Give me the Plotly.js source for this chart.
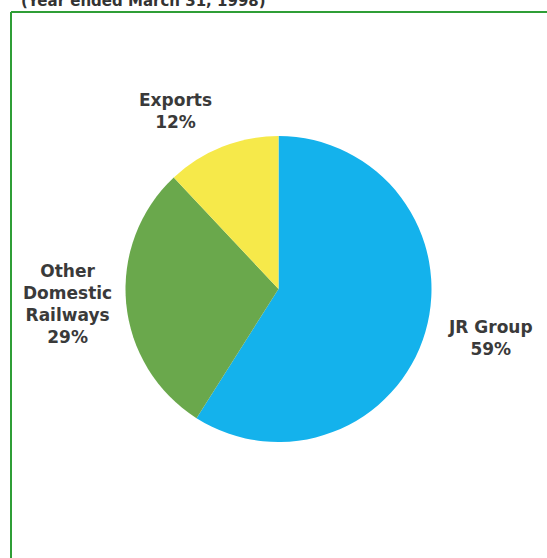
<!DOCTYPE html>
<html>
<head>
<meta charset="utf-8">
<script src="https://cdn.plot.ly/plotly-3.0.1.min.js"></script>
<style>html,body{margin:0;padding:0;background:#fff;}#chart{width:547px;height:558px;}</style>
</head>
<body>
<div id="chart"></div>
<script>
const categories = ["JR Group", "Other<br>Domestic<br>Railways", "Exports"];
const shares = [59, 29, 12];
const sliceColors = ["#14b2ec", "#6aa84c", "#f6e94a"];
const subtitle = "(Year ended March 31, 1998)";

// label anchor positions (paper coordinates)
const labelPos = [
  {x: 490 / 547, y: 1 - 338 / 558},
  {x: 67 / 547, y: 1 - 304 / 558},
  {x: 175 / 547, y: 1 - 111 / 558}
];

const W = 547, H = 558;
const fontFam = "'DejaVu Sans', 'Noto Sans', sans-serif";

const trace = {
  type: "pie",
  labels: categories,
  values: shares,
  sort: false,
  direction: "clockwise",
  rotation: 0,
  textinfo: "none",
  hoverinfo: "none",
  marker: {colors: sliceColors, line: {width: 0}},
  domain: {x: [125 / W, 432 / W], y: [1 - 442 / H, 1 - 136 / H]},
  showlegend: false
};

const annotations = categories.map((c, i) => ({
  xref: "paper", yref: "paper",
  x: labelPos[i].x, y: labelPos[i].y,
  xanchor: "center", yanchor: "middle",
  text: c + "<br>" + shares[i] + "%",
  showarrow: false,
  align: "center",
  font: {family: fontFam, size: 17, weight: "bold", color: "#3a3a3a"}
}));

annotations.push({
  xref: "paper", yref: "paper",
  x: 143 / W, y: 1 - 1 / H,
  xanchor: "center", yanchor: "middle",
  text: "<b>" + subtitle + "</b>",
  showarrow: false,
  font: {family: fontFam, size: 15, color: "#333333"}
});

const layout = {
  width: W, height: H,
  margin: {l: 0, r: 0, t: 0, b: 0},
  paper_bgcolor: "#ffffff",
  annotations: annotations,
  shapes: [
    {type: "line", xref: "paper", yref: "paper", x0: 11 / W, x1: 1, y0: 1 - 12 / H, y1: 1 - 12 / H, line: {color: "#2f9e36", width: 2}},
    {type: "line", xref: "paper", yref: "paper", x0: 11 / W, x1: 11 / W, y0: 1 - 12 / H, y1: 0, line: {color: "#2f9e36", width: 2}}
  ]
};

Plotly.newPlot("chart", [trace], layout, {staticPlot: true, displayModeBar: false});
</script>
</body>
</html>
